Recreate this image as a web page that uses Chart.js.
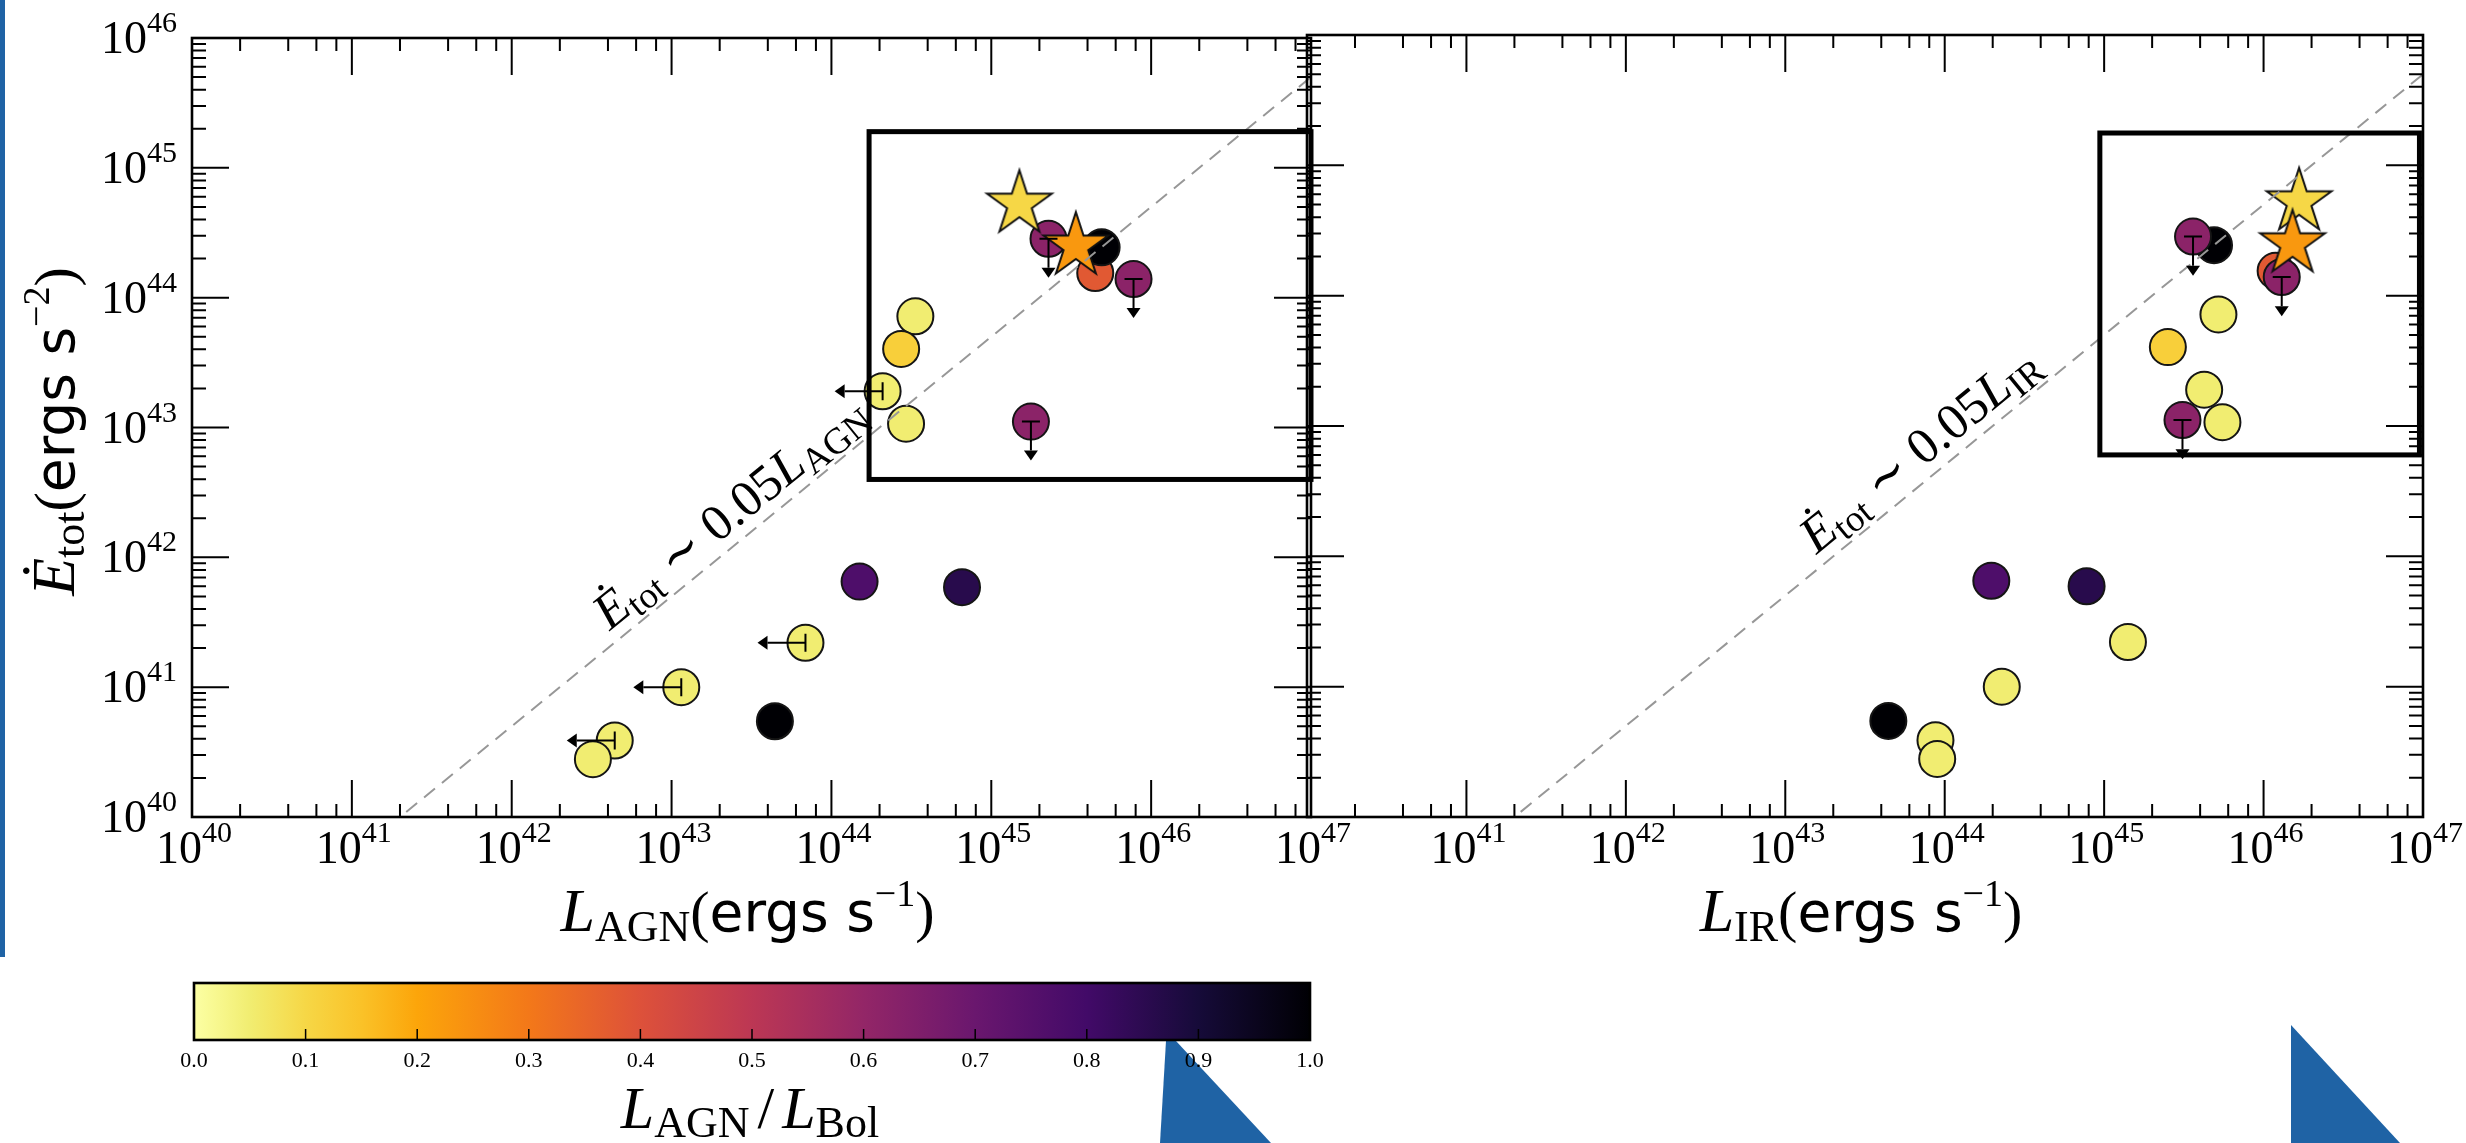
<!DOCTYPE html>
<html>
<head>
<meta charset="utf-8">
<script src="https://cdn.jsdelivr.net/npm/chart.js@4/dist/chart.umd.min.js"></script>
<style>
  html, body { margin: 0; padding: 0; background: #fff; width: 2466px; height: 1143px; overflow: hidden; }
  body { position: relative; }
  canvas { position: absolute; }
  .deco { position: absolute; background: #1f63a5; }
</style>
</head>
<body>
<div class="deco" style="left:0;top:0;width:5px;height:957px"></div>
<div class="deco" style="left:1160px;top:1041px;width:112px;height:102px;clip-path:polygon(6px 0,16px 0,111px 102px,0 102px)"></div>
<div class="deco" style="left:2291px;top:1025px;width:110px;height:118px;clip-path:polygon(0 0,109px 118px,0 118px)"></div>
<canvas id="agn" width="1400" height="960" style="left:0;top:0"></canvas>
<canvas id="ir" width="1226" height="960" style="left:1240px;top:0"></canvas>
<canvas id="cbar" width="1400" height="193" style="left:0;top:950px"></canvas>
<script>
// ---------------- data ----------------
// Total energy injection rate of each source (ergs s^-2 as labelled on the axis)
const edotTot  = [1.55e44, 2.44e44, 2.84e44, 1.39e44, 7.18e43, 4.03e43, 1.90e43, 1.11e43, 1.07e43,
                  6.50e41, 5.89e41, 2.20e41, 1.00e41, 5.46e40, 3.88e40, 2.79e40];
// AGN luminosity (ergs s^-1)
const lumAGN   = [4.47e45, 4.90e45, 2.28e45, 7.76e45, 3.35e44, 2.73e44, 2.09e44, 1.77e45, 2.93e44,
                  1.50e44, 6.56e44, 6.88e43, 1.15e43, 4.43e43, 4.41e42, 3.22e42];
// Infrared luminosity (ergs s^-1)
const lumIR    = [1.19e46, 4.89e45, 3.61e45, 1.30e46, 5.21e45, 2.51e45, 4.24e45, 3.10e45, 5.52e45,
                  1.96e44, 7.76e44, 1.41e45, 2.28e44, 4.43e43, 8.75e43, 8.97e43];
// AGN fraction L_AGN / L_Bol (colour)
const agnFrac  = [0.38, 1.00, 0.62, 0.62, 0.05, 0.12, 0.05, 0.62, 0.05,
                  0.77, 0.86, 0.05, 0.05, 1.00, 0.05, 0.05];
// upper limits: on Edot (down arrows) and on L_AGN (left arrows)
const edotUpper   = [false, false, true, true, false, false, false, true, false,
                     false, false, false, false, false, false, false];
const lumAGNUpper = [false, false, false, false, false, false, true, false, false,
                     false, false, true, true, false, true, false];

// starred sources
const starEdot = [5.25e44, 2.50e44];
const starAGN  = [1.50e45, 3.38e45];
const starIR   = [1.67e46, 1.52e46];
const starFrac = [0.10, 0.23];

// tick labels (decade exponents)
const xTickExpAGN = [40, 41, 42, 43, 44, 45, 46, 47];
const xTickExpIR  = [41, 42, 43, 44, 45, 46, 47];
const yTickExp    = [40, 41, 42, 43, 44, 45, 46];
const cbarTicks   = [0.0, 0.1, 0.2, 0.3, 0.4, 0.5, 0.6, 0.7, 0.8, 0.9, 1.0];

// reference relation Edot ~ 0.05 L
const lineRatio = 0.05;
const lineSpan  = [1e40, 1e47];

// highlighted regions
const boxAGN = { x: [1.72e44, 1e47],   y: [3.98e42, 1.90e45] };
const boxIR  = { x: [9.4e44, 9.5e46],  y: [6.0e42, 1.77e45] };

const limitDex = 0.3;   // length of limit arrows in dex

// ---------------- helpers ----------------
const SERIF = '"Liberation Serif", "DejaVu Serif", serif';
const SANS  = '"DejaVu Sans", "Liberation Sans", sans-serif';

// inferno colour map stops (position, colour)
const INFERNO = [
  [0.00, '#000004'], [0.10, '#160b39'], [0.20, '#420a68'], [0.30, '#6a176e'],
  [0.40, '#932667'], [0.50, '#bc3754'], [0.60, '#dd513a'], [0.70, '#f37819'],
  [0.80, '#fca50a'], [0.85, '#fac228'], [0.90, '#f6d746'], [0.95, '#f1ed71'],
  [1.00, '#fcffa4']
];
function hexToRgb(h) { return [1, 3, 5].map(i => parseInt(h.substr(i, 2), 16)); }
function infernoR(t) {
  const u = Math.min(Math.max(1 - t, 0), 1);
  let k = 0;
  while (k < INFERNO.length - 2 && INFERNO[k + 1][0] < u) k++;
  const [p0, c0] = INFERNO[k], [p1, c1] = INFERNO[k + 1];
  const f = (u - p0) / (p1 - p0);
  const a = hexToRgb(c0), b = hexToRgb(c1);
  const c = a.map((v, j) => Math.round(v + (b[j] - v) * f));
  return `rgb(${c[0]},${c[1]},${c[2]})`;
}

function starImage(fill) {
  const R = 34, r = R * 0.381966, pad = 6, s = 2 * (R + pad);
  const c = document.createElement('canvas');
  c.width = s; c.height = s;
  const g = c.getContext('2d');
  g.translate(s / 2, s / 2);
  g.beginPath();
  for (let k = 0; k < 10; k++) {
    const rad = k % 2 ? r : R, ang = -Math.PI / 2 + k * Math.PI / 5;
    g.lineTo(rad * Math.cos(ang), rad * Math.sin(ang));
  }
  g.closePath();
  g.fillStyle = fill; g.fill();
  g.lineWidth = 2; g.strokeStyle = '#111'; g.lineJoin = 'miter'; g.stroke();
  return c;
}

// draws a sequence of differently styled text pieces
function drawRuns(ctx, runs, x, y, angle, align) {
  ctx.save();
  ctx.translate(x, y);
  ctx.rotate(angle || 0);
  let total = 0;
  runs.forEach(r => { ctx.font = r.f; r.w = ctx.measureText(r.t).width + (r.gap || 0); total += r.w; });
  let cx = align === 'center' ? -total / 2 : align === 'right' ? -total : 0;
  ctx.textAlign = 'left'; ctx.textBaseline = 'alphabetic';
  runs.forEach(r => {
    ctx.font = r.f; ctx.fillStyle = r.c || '#000';
    ctx.fillText(r.t, cx + (r.pre || 0), r.dy || 0);
    cx += r.w;
  });
  ctx.restore();
}

function pow10Runs(e) {
  return [{ t: '10', f: `46px ${SERIF}` }, { t: String(e), f: `30px ${SERIF}`, dy: -21 }];
}

function arrow(ctx, x0, y0, x1, y1) {
  const dx = x1 - x0, dy = y1 - y0, L = Math.hypot(dx, dy), ux = dx / L, uy = dy / L;
  const head = 10, half = 7, cap = 9;
  ctx.beginPath();
  ctx.moveTo(x0 - uy * cap, y0 + ux * cap); ctx.lineTo(x0 + uy * cap, y0 - ux * cap);
  ctx.moveTo(x0, y0); ctx.lineTo(x1 - ux * head, y1 - uy * head);
  ctx.stroke();
  ctx.beginPath();
  ctx.moveTo(x1, y1);
  ctx.lineTo(x1 - ux * head - uy * half, y1 - uy * head + ux * half);
  ctx.lineTo(x1 - ux * head + uy * half, y1 - uy * head - ux * half);
  ctx.closePath(); ctx.fill();
}

// frame, inward ticks on all sides, tick labels and axis titles
const framePlugin = {
  id: 'frame',
  afterDraw(chart, args, o) {
    const { ctx, chartArea: a, scales: { x, y } } = chart;
    ctx.save();
    ctx.strokeStyle = '#000'; ctx.lineWidth = 2;
    const tick = (px, horiz, len) => {
      ctx.beginPath();
      if (horiz) {
        ctx.moveTo(px, a.bottom); ctx.lineTo(px, a.bottom - len);
        ctx.moveTo(px, a.top);    ctx.lineTo(px, a.top + len);
      } else {
        ctx.moveTo(a.left, px);  ctx.lineTo(a.left + len, px);
        ctx.moveTo(a.right, px); ctx.lineTo(a.right - len, px);
      }
      ctx.stroke();
    };
    const lx0 = Math.round(Math.log10(x.min)), lx1 = Math.round(Math.log10(x.max));
    for (let e = lx0; e <= lx1; e++) {
      tick(x.getPixelForValue(Math.pow(10, e)), true, 37);
      if (e < lx1) [2, 4, 6, 8].forEach(m => tick(x.getPixelForValue(m * Math.pow(10, e)), true, 13));
    }
    const ly0 = Math.round(Math.log10(y.min)), ly1 = Math.round(Math.log10(y.max));
    for (let e = ly0; e <= ly1; e++) {
      tick(y.getPixelForValue(Math.pow(10, e)), false, 37);
      if (e < ly1) [2, 3, 4, 5, 6, 7, 8, 9].forEach(m => tick(y.getPixelForValue(m * Math.pow(10, e)), false, 14));
    }
    ctx.lineWidth = 2.6;
    ctx.strokeRect(a.left, a.top, a.right - a.left, a.bottom - a.top);

    o.xTicks.forEach(e => drawRuns(ctx, pow10Runs(e), x.getPixelForValue(Math.pow(10, e)) + 2, a.bottom + 46, 0, 'center'));
    (o.yTicks || []).forEach(e => drawRuns(ctx, pow10Runs(e), a.left - 15, y.getPixelForValue(Math.pow(10, e)) + 15, 0, 'right'));

    drawRuns(ctx, o.xTitle, (a.left + a.right) / 2 - 4, a.bottom + 114, 0, 'center');
    if (o.yTitle) drawRuns(ctx, o.yTitle, 74, (a.top + a.bottom) / 2 + 4, -Math.PI / 2, 'center');
    ctx.restore();
  }
};

// highlighted box, limit arrows and relation label
const overlayPlugin = {
  id: 'overlay',
  afterDatasetsDraw(chart, args, o) {
    const { ctx, scales: { x, y } } = chart;
    ctx.save();
    const bx0 = x.getPixelForValue(o.box.x[0]), bx1 = x.getPixelForValue(o.box.x[1]);
    const by0 = y.getPixelForValue(o.box.y[0]), by1 = y.getPixelForValue(o.box.y[1]);
    ctx.lineWidth = 5; ctx.strokeStyle = '#000';
    ctx.strokeRect(bx0, by1, bx1 - bx0, by0 - by1);
    const pts = chart.getDatasetMeta(0).data;
    const xs = o.xValues, f = Math.pow(10, -limitDex);
    ctx.lineWidth = 2; ctx.fillStyle = '#000';
    pts.forEach((p, i) => {
      if (edotUpper[i]) arrow(ctx, p.x, p.y, p.x, y.getPixelForValue(edotTot[i] * f));
      if (o.xUpper && o.xUpper[i]) arrow(ctx, p.x, p.y, x.getPixelForValue(xs[i] * f), p.y);
    });
    const xa = x.getPixelForValue(o.labelAt), ya = y.getPixelForValue(o.labelAt * lineRatio);
    const x2 = x.getPixelForValue(o.labelAt * 10), y2 = y.getPixelForValue(o.labelAt * 10 * lineRatio);
    const ang = Math.atan2(y2 - ya, x2 - xa);
    const off = 12;
    drawRuns(ctx, o.label, xa + Math.sin(ang) * off, ya - Math.cos(ang) * off, ang, 'center');
    ctx.restore();
  }
};

function labelRuns(sub) {
  return [
    { t: 'Ė', f: `italic 51px ${SERIF}` },
    { t: 'tot', f: `37px ${SERIF}`, dy: 8 },
    { t: ' ∼ ', f: `51px ${SERIF}` },
    { t: '0.05', f: `51px ${SERIF}` },
    { t: 'L', f: `italic 51px ${SERIF}` },
    { t: sub, f: `37px ${SERIF}`, dy: 8 }
  ];
}
function xTitleRuns(sub) {
  return [
    { t: 'L', f: `italic 62px ${SERIF}` },
    { t: sub, f: `44px ${SERIF}`, dy: 10 },
    { t: '(', f: `58px ${SERIF}` },
    { t: 'ergs s', f: `55px ${SANS}` },
    { t: '−1', f: `38px ${SERIF}`, dy: -25 },
    { t: ')', f: `58px ${SERIF}` }
  ];
}
const yTitle = [
  { t: 'Ė', f: `italic 62px ${SERIF}` },
  { t: 'tot', f: `44px ${SERIF}`, dy: 10 },
  { t: '(', f: `58px ${SERIF}` },
  { t: 'ergs s', f: `55px ${SANS}` },
  { t: '−2', f: `38px ${SERIF}`, dy: -25 },
  { t: ')', f: `58px ${SERIF}` }
];

function makePanel(canvasId, xValues, starX, opts) {
  const circles = {
    type: 'scatter',
    data: xValues.map((v, i) => ({ x: v, y: edotTot[i] })),
    showLine: false,
    pointRadius: 18,
    pointBackgroundColor: agnFrac.map(infernoR),
    pointBorderColor: '#151515',
    pointBorderWidth: 2,
    order: 3
  };
  const stars = {
    type: 'scatter',
    data: starX.map((v, i) => ({ x: v, y: starEdot[i] })),
    showLine: false,
    pointRadius: 34,
    pointStyle: starFrac.map(fr => starImage(infernoR(fr))),
    order: 2
  };
  const relation = {
    type: 'line',
    data: lineSpan.map(v => ({ x: v, y: v * lineRatio })),
    borderColor: '#979797',
    borderWidth: 2,
    borderDash: [14, 9],
    pointRadius: 0,
    fill: false,
    order: 1
  };
  return new Chart(document.getElementById(canvasId), {
    type: 'scatter',
    data: { datasets: [circles, stars, relation] },
    options: {
      responsive: false,
      animation: false,
      devicePixelRatio: 1,
      events: [],
      layout: { padding: opts.padding },
      scales: {
        x: { type: 'logarithmic', min: 1e40, max: 1e47, display: false },
        y: { type: 'logarithmic', min: 1e40, max: 1e46, display: false }
      },
      plugins: {
        legend: { display: false },
        tooltip: { enabled: false },
        frame: { xTicks: opts.xTicks, yTicks: opts.yTicks, xTitle: opts.xTitle, yTitle: opts.yTitle },
        overlay: { box: opts.box, xValues: xValues, xUpper: opts.xUpper, labelAt: opts.labelAt, label: opts.label }
      }
    },
    plugins: [framePlugin, overlayPlugin]
  });
}

makePanel('agn', lumAGN, starAGN, {
  padding: { left: 192, right: 89, top: 38, bottom: 143 },
  xTicks: xTickExpAGN, yTicks: yTickExp,
  xTitle: xTitleRuns('AGN'), yTitle: yTitle,
  box: boxAGN, xUpper: lumAGNUpper,
  labelAt: 3.0e43, label: labelRuns('AGN')
});

makePanel('ir', lumIR, starIR, {
  padding: { left: 67, right: 43, top: 33, bottom: 143 },
  xTicks: xTickExpIR, yTicks: null,
  xTitle: xTitleRuns('IR'), yTitle: null,
  box: boxIR, xUpper: null,
  labelAt: 9.0e43, label: labelRuns('IR')
});

// colour bar for L_AGN / L_Bol
const cbarPlugin = {
  id: 'cbarDraw',
  afterDraw(chart) {
    const { ctx, chartArea: a, scales: { x } } = chart;
    ctx.save();
    const g = ctx.createLinearGradient(x.getPixelForValue(0), 0, x.getPixelForValue(1), 0);
    INFERNO.forEach(([p, c]) => g.addColorStop(1 - p, c));
    ctx.fillStyle = g;
    ctx.fillRect(a.left, a.top, a.right - a.left, a.bottom - a.top);
    ctx.strokeStyle = '#000'; ctx.lineWidth = 1.5;
    cbarTicks.forEach(v => {
      const px = x.getPixelForValue(v);
      ctx.beginPath(); ctx.moveTo(px, a.bottom); ctx.lineTo(px, a.bottom - 11); ctx.stroke();
    });
    ctx.lineWidth = 2.6;
    ctx.strokeRect(a.left, a.top, a.right - a.left, a.bottom - a.top);
    ctx.fillStyle = '#000'; ctx.font = `22px ${SERIF}`; ctx.textAlign = 'center'; ctx.textBaseline = 'alphabetic';
    cbarTicks.forEach(v => ctx.fillText(v.toFixed(1), x.getPixelForValue(v), a.bottom + 27));
    drawRuns(ctx, [
      { t: 'L', f: `italic 60px ${SERIF}` },
      { t: 'AGN', f: `44px ${SERIF}`, dy: 9 },
      { t: '/', f: `60px ${SERIF}`, gap: 16, pre: 8 },
      { t: 'L', f: `italic 60px ${SERIF}` },
      { t: 'Bol', f: `44px ${SERIF}`, dy: 9 }
    ], (a.left + a.right) / 2 - 2, a.bottom + 88, 0, 'center');
    ctx.restore();
  }
};
new Chart(document.getElementById('cbar'), {
  type: 'scatter',
  data: { datasets: [] },
  options: {
    responsive: false, animation: false, devicePixelRatio: 1, events: [],
    layout: { padding: { left: 194, right: 90, top: 33, bottom: 103 } },
    scales: {
      x: { type: 'linear', min: 0, max: 1, display: false },
      y: { type: 'linear', min: 0, max: 1, display: false }
    },
    plugins: { legend: { display: false }, tooltip: { enabled: false } }
  },
  plugins: [cbarPlugin]
});
</script>
</body>
</html>
